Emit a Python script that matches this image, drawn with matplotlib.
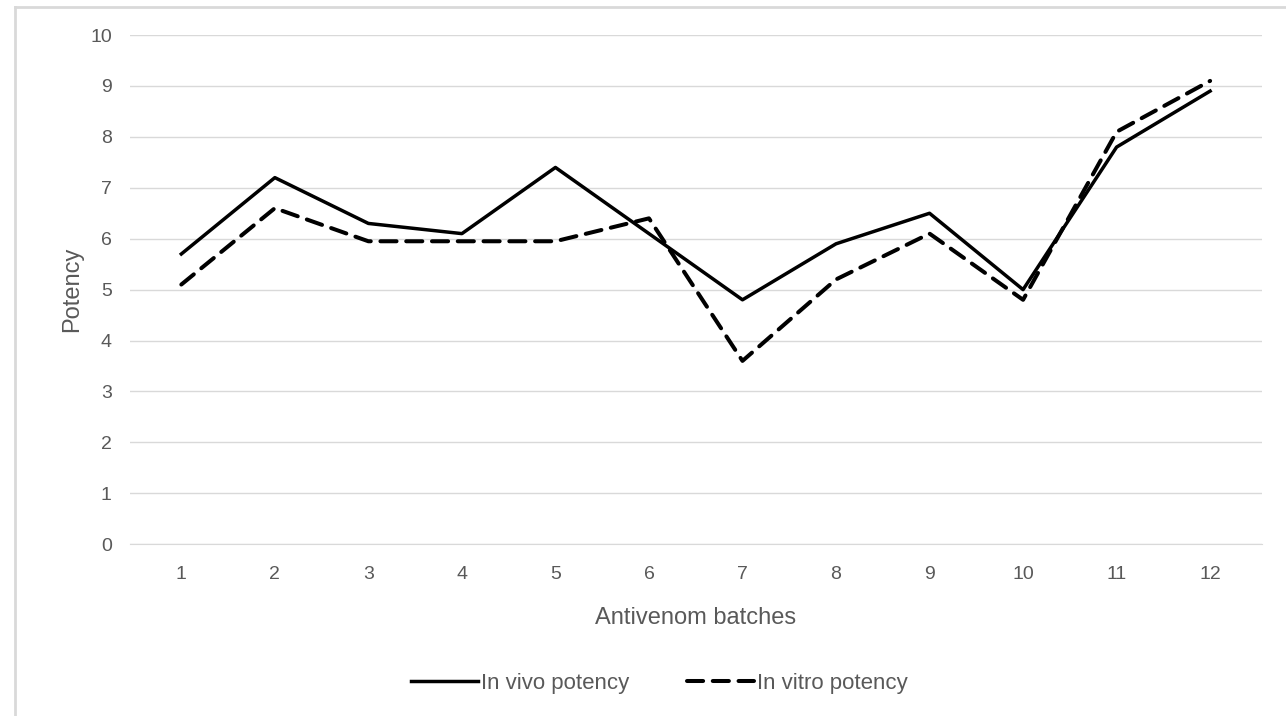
import matplotlib
matplotlib.use("Agg")
import matplotlib.pyplot as plt
from matplotlib.lines import Line2D

batches = [1, 2, 3, 4, 5, 6, 7, 8, 9, 10, 11, 12]
in_vivo = [5.7, 7.2, 6.3, 6.1, 7.4, 6.1, 4.8, 5.9, 6.5, 5.0, 7.8, 8.9]
in_vitro = [5.1, 6.6, 5.95, 5.95, 5.95, 6.4, 3.6, 5.2, 6.1, 4.8, 8.1, 9.1]

plt.rcParams['font.family'] = ['Liberation Sans', 'DejaVu Sans']
grey = '#595959'

fig = plt.figure(figsize=(12.86, 7.16), dpi=100)
ax = fig.add_axes([0.101, 0.240, 0.880, 0.711])

# Lines
ax.plot(batches, in_vivo, color='black', lw=2.5, label='In vivo potency')
ax.plot(batches, in_vitro, color='black', lw=2.9, linestyle=(0, (4.0, 2.4)),
        dash_capstyle='round', label='In vitro potency')

ax.set_xlim(0.45, 12.55)
ax.set_ylim(0, 10)
ax.set_yticks(range(0, 11))
ax.set_xticks(batches)

ax.grid(axis='y', color='#d9d9d9', lw=1)
ax.set_axisbelow(True)
for s in ['top', 'right', 'left']:
    ax.spines[s].set_visible(False)
ax.spines['bottom'].set_color('#d9d9d9')
ax.tick_params(axis='both', length=0, labelsize=14, colors=grey)
ax.tick_params(axis='y', pad=13)
ax.tick_params(axis='x', pad=16)

ax.set_xlabel('Antivenom batches', fontsize=17, color=grey, labelpad=17)
ax.set_ylabel('Potency', fontsize=17, color=grey, labelpad=5)

leg = ax.legend(loc='center', bbox_to_anchor=(0.468, -0.274), ncol=2,
                frameon=False, fontsize=16, handlelength=3.0,
                columnspacing=2.6, handletextpad=0.15)
for t in leg.get_texts():
    t.set_color(grey)

# light chart border (top and left edges visible)
fig.add_artist(Line2D([0.0117, 1.0], [0.990, 0.990], transform=fig.transFigure,
                      color='#d9d9d9', lw=2))
fig.add_artist(Line2D([0.0117, 0.0117], [0.0, 0.990], transform=fig.transFigure,
                      color='#d9d9d9', lw=2))

fig.savefig('out.png', dpi=100)
